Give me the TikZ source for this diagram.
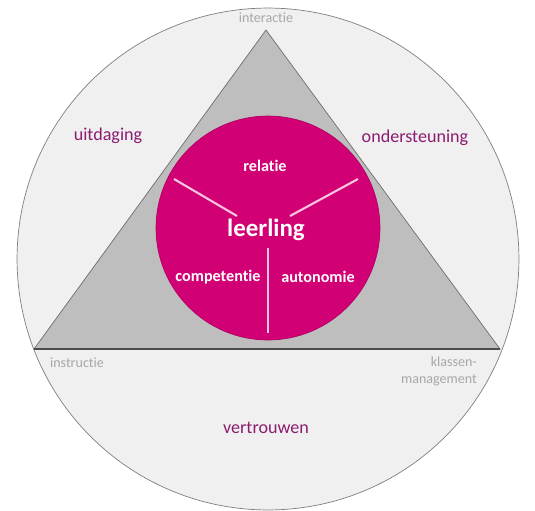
\documentclass[tikz,border=0pt]{standalone}
\usepackage{fontspec}
\setmainfont{Carlito}[Ligatures=NoCommon]
\definecolor{ringfill}{HTML}{F0F0F0}
\definecolor{ringline}{HTML}{7F7F7F}
\definecolor{trifill}{HTML}{BEBEBE}
\definecolor{triline}{HTML}{6E6E6E}
\definecolor{pupil}{HTML}{D10074}
\definecolor{spoke}{HTML}{F7C4E0}
\definecolor{labelpurple}{HTML}{8C1C70}
\definecolor{cornergrey}{HTML}{A8A8A8}
\begin{document}
\begin{tikzpicture}[x=0.02cm,y=-0.02cm,
  outer/.style={text=labelpurple, font=\fontsize{10.3}{12}\selectfont},
  corner/.style={text=cornergrey, font=\fontsize{8}{9.6}\selectfont},
  inner/.style={text=white, font=\bfseries\fontsize{9.2}{11}\selectfont}]
\useasboundingbox (0,0) rectangle (535,511);
% ring and triangle
\draw[draw=ringline, fill=ringfill] (268,259) circle (5.02cm);
\coordinate (top) at (266,30);
\coordinate (bl) at (34,349);
\coordinate (br) at (500,349);
\draw[draw=triline, fill=trifill] (top) -- (br) -- (bl) -- cycle;
\draw[draw=black!70, line width=1pt] (bl) -- (br);
% the pupil
\node[circle, fill=pupil, draw=pupil!85!black, minimum size=4.48cm, inner sep=0pt] (kern) at (268,228) {};
\coordinate (sl1) at (174,179); \coordinate (sl2) at (237,216);
\coordinate (sr1) at (358,179); \coordinate (sr2) at (290,216);
\coordinate (sv1) at (268,248); \coordinate (sv2) at (268,333);
\draw[spoke, line width=1.2pt] (sl1) -- (sl2);
\draw[spoke, line width=1.2pt] (sr1) -- (sr2);
\draw[spoke, line width=1.2pt] (sv1) -- (sv2);
\node[text=white, font=\bfseries\fontsize{14.2}{16}\selectfont] (leerling) at (266,230) {leerling};
\node[inner] (relatie) at (265,166) {relatie};
\node[inner] (competentie) at (218,277) {competentie};
\node[inner] (autonomie) at (318,277) {autonomie};
% labels
\node[outer] (uitdaging) at (108,136) {uitdaging};
\node[outer] (ondersteuning) at (415,138) {ondersteuning};
\node[outer] (vertrouwen) at (266,428) {vertrouwen};
\node[corner] (interactie) at (266,18) {interactie};
\node[corner] (instructie) at (77,363) {instructie};
\node[corner, align=right, anchor=east] (klassen) at (483,371) {klassen-\\management};
\end{tikzpicture}
\end{document}
